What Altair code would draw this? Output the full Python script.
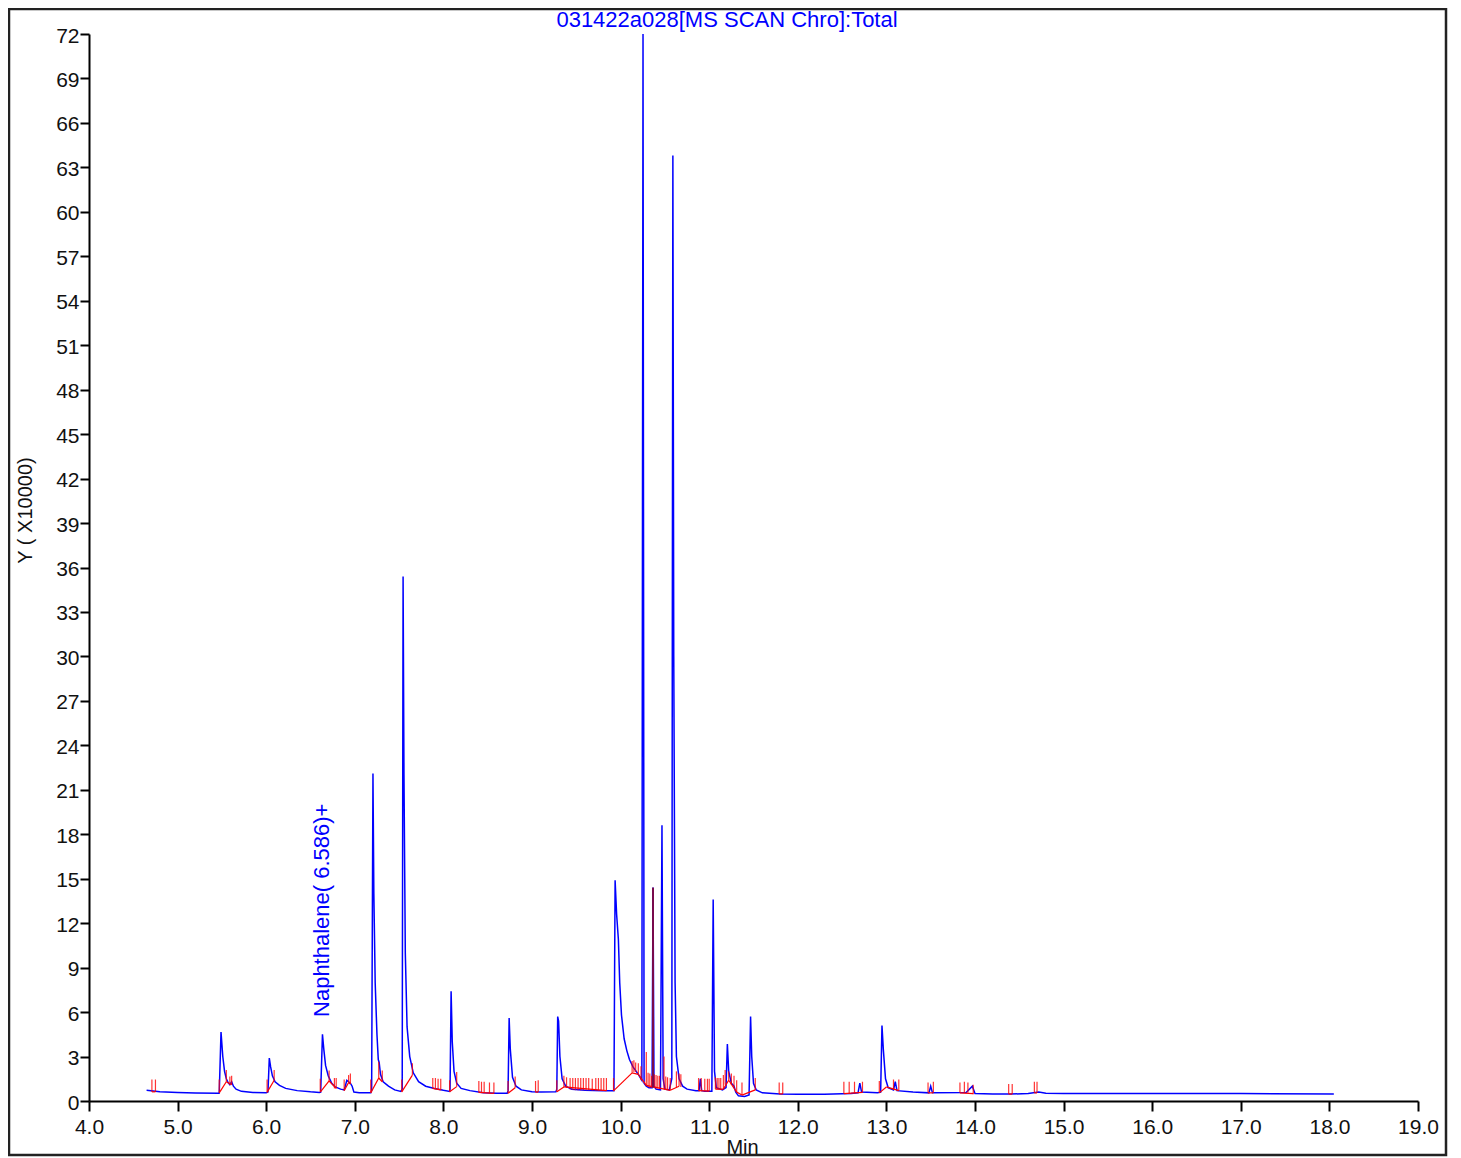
import altair as alt
import pandas as pd

# ---------------- data ----------------
# total ion chromatogram: (retention time in min, intensity x10000)
trace_points = [
    (4.65, 0.72), (4.80, 0.62), (5.00, 0.57), (5.20, 0.54), (5.46, 0.52), (5.47, 0.53), (5.49, 4.66),
    (5.51, 3.0), (5.53, 2.0), (5.55, 1.5), (5.57, 1.25), (5.59, 1.1), (5.61, 1.3), (5.63, 1.0), (5.66, 0.8),
    (5.72, 0.65), (5.85, 0.58), (6.00, 0.55), (6.02, 0.6), (6.035, 2.9), (6.05, 2.3), (6.07, 1.7), (6.10, 1.3),
    (6.15, 1.05), (6.22, 0.85), (6.35, 0.7), (6.50, 0.62), (6.60, 0.58), (6.615, 0.6), (6.635, 4.5),
    (6.65, 3.5), (6.67, 2.4), (6.70, 1.7), (6.74, 1.2), (6.78, 0.95), (6.84, 0.8), (6.88, 0.75), (6.89, 0.95),
    (6.91, 1.4), (6.93, 1.3), (6.95, 1.2), (6.97, 1.0), (6.99, 0.6), (7.05, 0.55), (7.18, 0.55), (7.19, 0.7),
    (7.205, 22.1), (7.215, 14.0), (7.23, 8.0), (7.25, 4.5), (7.265, 2.8), (7.275, 2.6), (7.29, 1.8),
    (7.32, 1.3), (7.38, 1.0), (7.45, 0.75), (7.52, 0.65), (7.535, 0.8), (7.545, 35.4), (7.555, 22.0),
    (7.57, 10.0), (7.59, 5.0), (7.62, 3.0), (7.66, 1.9), (7.72, 1.3), (7.80, 1.0), (7.90, 0.85), (8.00, 0.72),
    (8.07, 0.65), (8.075, 0.8), (8.087, 7.4), (8.10, 4.0), (8.12, 2.0), (8.15, 1.2), (8.20, 0.85), (8.30, 0.7),
    (8.45, 0.55), (8.60, 0.52), (8.72, 0.52), (8.73, 0.7), (8.742, 5.6), (8.755, 3.5), (8.78, 1.6),
    (8.82, 1.0), (8.88, 0.75), (9.00, 0.62), (9.10, 0.6), (9.27, 0.62), (9.28, 0.8), (9.29, 5.7), (9.30, 5.4),
    (9.315, 3.0), (9.34, 1.5), (9.38, 1.0), (9.45, 0.8), (9.60, 0.72), (9.80, 0.7), (9.925, 0.7),
    (9.938, 14.9), (9.955, 12.6), (9.975, 10.9), (9.99, 8.0), (10.01, 5.8), (10.04, 4.2), (10.07, 3.4),
    (10.10, 2.8), (10.14, 2.3), (10.20, 1.8), (10.24, 1.4), (10.253, 72.0), (10.265, 1.2), (10.29, 1.0),
    (10.32, 0.9), (10.355, 0.9), (10.366, 14.4), (10.377, 1.0), (10.40, 0.8), (10.45, 0.75), (10.467, 18.6),
    (10.48, 1.5), (10.50, 0.8), (10.55, 0.75), (10.578, 1.5), (10.59, 63.8), (10.60, 30.0), (10.615, 8.0),
    (10.63, 3.0), (10.66, 1.5), (10.70, 1.0), (10.75, 0.8), (10.85, 0.7), (10.885, 0.7), (10.90, 1.5),
    (10.915, 0.7), (10.95, 0.65), (11.03, 0.65), (11.045, 13.6), (11.06, 2.0), (11.08, 0.9), (11.15, 0.75),
    (11.19, 0.9), (11.205, 3.85), (11.22, 2.0), (11.25, 1.2), (11.28, 1.0), (11.30, 0.6), (11.33, 0.35),
    (11.40, 0.3), (11.45, 0.4), (11.467, 5.7), (11.48, 3.0), (11.50, 1.2), (11.53, 0.75), (11.60, 0.55),
    (11.80, 0.48), (12.00, 0.45), (12.30, 0.45), (12.60, 0.5), (12.68, 0.55), (12.70, 1.2), (12.72, 0.6),
    (12.90, 0.55), (12.935, 0.6), (12.95, 5.1), (12.965, 3.5), (12.99, 1.5), (13.02, 0.9), (13.08, 0.75),
    (13.10, 1.3), (13.12, 0.7), (13.30, 0.6), (13.48, 0.55), (13.50, 1.0), (13.52, 0.55), (13.90, 0.58),
    (13.97, 1.0), (14.00, 0.5), (14.20, 0.47), (14.40, 0.47), (14.60, 0.5), (14.72, 0.6), (14.80, 0.52),
    (15.00, 0.5), (16.00, 0.5), (17.00, 0.5), (18.05, 0.48),
]

# red peak start / end markers: (time, bottom, top)
marker_ticks = [
    (4.71, 0.62, 1.45), (4.75, 0.62, 1.45), (5.47, 0.55, 1.45), (5.55, 1.30, 2.10), (5.59, 1.10, 1.65),
    (5.61, 1.10, 1.70), (6.01, 0.58, 1.45), (6.09, 1.40, 2.10), (6.61, 0.60, 1.50), (6.71, 1.35, 2.05),
    (6.77, 0.85, 1.55), (6.79, 0.85, 1.55), (6.88, 0.70, 1.45), (6.93, 1.25, 1.75), (6.95, 1.15, 1.85),
    (7.18, 0.55, 1.45), (7.27, 1.55, 2.65), (7.31, 1.30, 2.05), (7.53, 0.62, 1.45), (7.65, 1.75, 2.55),
    (7.88, 0.85, 1.55), (7.91, 0.80, 1.55), (7.94, 0.78, 1.50), (7.97, 0.75, 1.50), (8.07, 0.62, 1.40),
    (8.15, 0.97, 1.95), (8.40, 0.58, 1.35), (8.43, 0.56, 1.30), (8.46, 0.55, 1.30), (8.52, 0.53, 1.25),
    (8.57, 0.52, 1.25), (8.73, 0.52, 1.35), (8.81, 0.90, 1.65), (9.04, 0.60, 1.35), (9.07, 0.60, 1.40),
    (9.28, 0.62, 1.40), (9.36, 0.95, 1.70), (9.39, 0.90, 1.60), (9.43, 0.78, 1.55), (9.46, 0.75, 1.55),
    (9.49, 0.73, 1.55), (9.52, 0.72, 1.55), (9.55, 0.72, 1.55), (9.58, 0.72, 1.55), (9.61, 0.72, 1.55),
    (9.64, 0.72, 1.55), (9.68, 0.71, 1.50), (9.72, 0.71, 1.55), (9.75, 0.70, 1.55), (9.78, 0.70, 1.55),
    (9.81, 0.70, 1.55), (9.84, 0.70, 1.55), (9.92, 0.68, 1.55), (10.13, 1.90, 2.70), (10.15, 1.95, 2.75),
    (10.17, 1.95, 2.60), (10.20, 1.80, 2.55), (10.23, 1.40, 2.35), (10.29, 1.05, 3.30), (10.31, 0.95, 1.90),
    (10.33, 0.90, 1.85), (10.35, 0.90, 1.70), (10.38, 0.90, 1.80), (10.40, 0.85, 1.75), (10.42, 0.85, 1.70),
    (10.44, 0.82, 1.70), (10.49, 0.80, 3.00), (10.51, 0.78, 1.65), (10.53, 0.75, 1.60), (10.56, 0.72, 1.55),
    (10.63, 0.90, 2.00), (10.66, 1.00, 1.85), (10.68, 0.95, 1.80), (10.88, 0.70, 1.55), (10.91, 0.70, 1.55),
    (10.95, 0.68, 1.50), (10.98, 0.67, 1.50), (11.00, 0.66, 1.50), (11.07, 0.80, 1.60), (11.09, 0.78, 1.55),
    (11.11, 0.76, 1.55), (11.13, 0.75, 1.55), (11.16, 0.80, 1.75), (11.18, 1.10, 2.10), (11.22, 1.40, 2.00),
    (11.25, 1.10, 1.85), (11.28, 0.95, 1.70), (11.31, 0.60, 1.40), (11.37, 0.40, 1.25), (11.52, 0.75, 1.55),
    (11.79, 0.48, 1.25), (11.83, 0.48, 1.25), (12.52, 0.50, 1.30), (12.58, 0.52, 1.30), (12.64, 0.53, 1.30),
    (12.73, 0.58, 1.30), (12.92, 0.55, 1.35), (13.08, 0.75, 1.45), (13.14, 0.70, 1.45), (13.47, 0.55, 1.25),
    (13.53, 0.55, 1.30), (13.83, 0.55, 1.25), (13.88, 0.55, 1.30), (13.92, 0.55, 1.25), (13.98, 0.45, 1.10),
    (14.38, 0.47, 1.15), (14.42, 0.47, 1.15), (14.67, 0.55, 1.30), (14.70, 0.55, 1.30),
]

# red integration baselines: (t1, y1, t2, y2)
baseline_segments = [
    (4.71, 0.62, 4.75, 0.62), (5.47, 0.55, 5.55, 1.30), (5.55, 1.30, 5.61, 1.10), (6.01, 0.58, 6.09, 1.40),
    (6.61, 0.60, 6.71, 1.35), (6.71, 1.35, 6.79, 0.85), (6.88, 0.70, 6.93, 1.25), (6.93, 1.25, 6.95, 1.15),
    (7.18, 0.55, 7.27, 1.55), (7.27, 1.55, 7.31, 1.30), (7.53, 0.62, 7.65, 1.75), (7.88, 0.85, 7.97, 0.75),
    (8.07, 0.62, 8.15, 0.97), (8.40, 0.58, 8.57, 0.52), (8.73, 0.52, 8.81, 0.90), (9.04, 0.60, 9.07, 0.60),
    (9.28, 0.62, 9.36, 0.95), (9.36, 0.95, 9.84, 0.70), (9.92, 0.68, 10.13, 1.90), (10.13, 1.90, 10.20, 1.80),
    (10.20, 1.80, 10.29, 1.05), (10.29, 1.05, 10.56, 0.72), (10.56, 0.72, 10.66, 1.00),
    (10.88, 0.70, 11.00, 0.66), (11.07, 0.80, 11.16, 0.80), (11.16, 0.80, 11.22, 1.40),
    (11.22, 1.40, 11.31, 0.60), (11.31, 0.60, 11.37, 0.40), (11.37, 0.40, 11.52, 0.75),
    (11.79, 0.48, 11.83, 0.48), (12.52, 0.50, 12.73, 0.58), (12.92, 0.55, 13.00, 0.95),
    (13.00, 0.95, 13.14, 0.70), (13.47, 0.55, 13.53, 0.55), (13.83, 0.55, 13.98, 0.50),
    (14.38, 0.47, 14.42, 0.47), (14.67, 0.55, 14.70, 0.55),
]

# overlapped (dark red) peak: (time, bottom, top)
dark_peaks = [(10.366, 0.9, 14.4)]

x_ticks = [4, 5, 6, 7, 8, 9, 10, 11, 12, 13, 14, 15, 16, 17, 18, 19]
y_ticks = [0, 3, 6, 9, 12, 15, 18, 21, 24, 27, 30, 33, 36, 39, 42, 45, 48, 51, 54, 57, 60, 63, 66, 69, 72]

label_text = ["Naphthalene( 6.586)+"]
label_t = [6.63]
label_y = [5.67]

title_text = "031422a028[MS SCAN Chro]:Total"

# ---------------- tables ----------------
trace = pd.DataFrame(trace_points, columns=["t", "y"])
ticks = pd.DataFrame(marker_ticks, columns=["t", "y", "y1"])
segs = pd.DataFrame(baseline_segments, columns=["t", "y", "t2", "y2"])
dark = pd.DataFrame(dark_peaks, columns=["t", "y", "y1"])
labels = pd.DataFrame({"text": label_text, "t": label_t, "y": label_y})

FONT = "Liberation Sans"
W, H = 1329, 1067

xscale = alt.Scale(domain=[4, 19], nice=False, zero=False)
yscale = alt.Scale(domain=[0, 72], nice=False, zero=False)

x_axis = alt.Axis(values=x_ticks, format=".1f", labelFontSize=21, labelFont=FONT, labelColor="#111111",
                  tickSize=10, tickWidth=2, tickColor="black", domainColor="black", domainWidth=2,
                  labelPadding=5, titleFont=FONT, titleFontSize=20, titleFontWeight="normal",
                  titleColor="#111111", titleX=653, titleY=52, titleBaseline="alphabetic", titleAlign="center",
                  grid=False, labelFlush=False)
y_axis = alt.Axis(values=y_ticks, format="d", labelFontSize=21, labelFont=FONT, labelColor="#111111",
                  tickSize=9, tickWidth=2, tickColor="black", domainColor="black", domainWidth=2,
                  labelPadding=1, labelOffset=2, titleFont=FONT, titleFontSize=20,
                  titleFontWeight="normal", titleColor="#111111", titleX=-64, titleY=476, titleAngle=-90,
                  titleAlign="center", titleBaseline="middle", grid=False, labelFlush=False)

X = alt.X("t:Q", scale=xscale, axis=x_axis, title="Min")
Y = alt.Y("y:Q", scale=yscale, axis=y_axis, title="Y ( X10000)")

blue = alt.Chart(trace).mark_line(color="#0000FF", strokeWidth=1.5, interpolate="linear").encode(x=X, y=Y)

red_ticks = alt.Chart(ticks).mark_rule(color="#FF0000", strokeWidth=1.2, opacity=0.8).encode(
    x=X, y=Y, y2="y1:Q")

red_segs = alt.Chart(segs).mark_rule(color="#FF0000", strokeWidth=1.2).encode(
    x=X, x2="t2:Q", y=Y, y2="y2:Q")

dark_line = alt.Chart(dark).mark_rule(color="#7A0A4A", strokeWidth=2).encode(x=X, y=Y, y2="y1:Q")

naph = alt.Chart(labels).mark_text(color="#0000FF", fontSize=22, font=FONT, angle=270, align="left",
                                   baseline="middle").encode(x=X, y=Y, text="text:N")

top_title = alt.Chart(pd.DataFrame({"text": [title_text]})).mark_text(
    color="#0000FF", fontSize=22, font=FONT, align="center", baseline="middle").encode(
    x=alt.value(638), y=alt.value(-14), text="text:N")

frame = alt.Chart(pd.DataFrame({"k": [0]})).mark_rect(fill=None, stroke="#222222", strokeWidth=2.5).encode(
    x=alt.value(-80), x2=alt.value(1357), y=alt.value(-25), y2=alt.value(1121))

chart = alt.layer(blue, red_ticks, red_segs, dark_line, naph, top_title, frame).properties(
    width=W, height=H,
    autosize=alt.AutoSizeParams(type="none"),
    padding={"left": 81, "top": 26, "right": 30, "bottom": 56},
    background="white",
).configure_view(stroke=None)

chart.save("out.html", embed_options={"renderer": "svg", "actions": False})
